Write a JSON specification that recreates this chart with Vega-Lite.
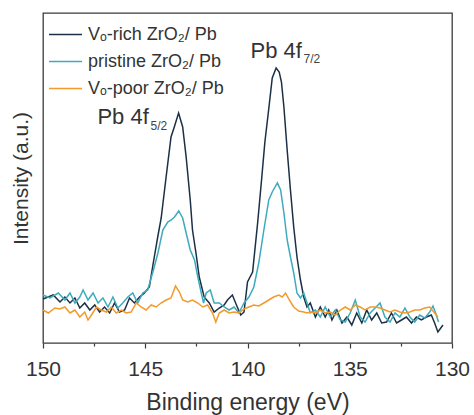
{
  "$schema": "https://vega.github.io/schema/vega-lite/v6.json",
  "width": 409,
  "height": 330,
  "autosize": {"type": "none"},
  "padding": {"left": 43, "top": 13, "right": 22, "bottom": 72},
  "config": {
    "font": "Liberation Sans",
    "view": {"stroke": "#3a3a3a", "strokeWidth": 1.3}
  },
  "datasets": {
    "spec": [
      {"s": "Vₒ-rich ZrO₂/ Pb", "e": 150.0, "v": 43},
      {"s": "Vₒ-rich ZrO₂/ Pb", "e": 149.75, "v": 45},
      {"s": "Vₒ-rich ZrO₂/ Pb", "e": 149.5, "v": 47},
      {"s": "Vₒ-rich ZrO₂/ Pb", "e": 149.17, "v": 40},
      {"s": "Vₒ-rich ZrO₂/ Pb", "e": 148.93, "v": 45},
      {"s": "Vₒ-rich ZrO₂/ Pb", "e": 148.68, "v": 39},
      {"s": "Vₒ-rich ZrO₂/ Pb", "e": 148.44, "v": 44},
      {"s": "Vₒ-rich ZrO₂/ Pb", "e": 148.2, "v": 34},
      {"s": "Vₒ-rich ZrO₂/ Pb", "e": 147.96, "v": 39},
      {"s": "Vₒ-rich ZrO₂/ Pb", "e": 147.71, "v": 32},
      {"s": "Vₒ-rich ZrO₂/ Pb", "e": 147.47, "v": 37},
      {"s": "Vₒ-rich ZrO₂/ Pb", "e": 147.23, "v": 30},
      {"s": "Vₒ-rich ZrO₂/ Pb", "e": 146.99, "v": 35},
      {"s": "Vₒ-rich ZrO₂/ Pb", "e": 146.74, "v": 29},
      {"s": "Vₒ-rich ZrO₂/ Pb", "e": 146.5, "v": 39},
      {"s": "Vₒ-rich ZrO₂/ Pb", "e": 146.26, "v": 30},
      {"s": "Vₒ-rich ZrO₂/ Pb", "e": 146.01, "v": 32},
      {"s": "Vₒ-rich ZrO₂/ Pb", "e": 145.77, "v": 44},
      {"s": "Vₒ-rich ZrO₂/ Pb", "e": 145.53, "v": 39},
      {"s": "Vₒ-rich ZrO₂/ Pb", "e": 145.28, "v": 45},
      {"s": "Vₒ-rich ZrO₂/ Pb", "e": 145.04, "v": 49},
      {"s": "Vₒ-rich ZrO₂/ Pb", "e": 144.8, "v": 55},
      {"s": "Vₒ-rich ZrO₂/ Pb", "e": 144.6, "v": 80},
      {"s": "Vₒ-rich ZrO₂/ Pb", "e": 144.39, "v": 105},
      {"s": "Vₒ-rich ZrO₂/ Pb", "e": 144.22, "v": 124},
      {"s": "Vₒ-rich ZrO₂/ Pb", "e": 143.98, "v": 165},
      {"s": "Vₒ-rich ZrO₂/ Pb", "e": 143.74, "v": 205},
      {"s": "Vₒ-rich ZrO₂/ Pb", "e": 143.58, "v": 215},
      {"s": "Vₒ-rich ZrO₂/ Pb", "e": 143.37, "v": 229},
      {"s": "Vₒ-rich ZrO₂/ Pb", "e": 143.17, "v": 215},
      {"s": "Vₒ-rich ZrO₂/ Pb", "e": 143.0, "v": 185},
      {"s": "Vₒ-rich ZrO₂/ Pb", "e": 142.8, "v": 142},
      {"s": "Vₒ-rich ZrO₂/ Pb", "e": 142.69, "v": 112},
      {"s": "Vₒ-rich ZrO₂/ Pb", "e": 142.52, "v": 89},
      {"s": "Vₒ-rich ZrO₂/ Pb", "e": 142.36, "v": 65},
      {"s": "Vₒ-rich ZrO₂/ Pb", "e": 142.12, "v": 45},
      {"s": "Vₒ-rich ZrO₂/ Pb", "e": 141.87, "v": 39},
      {"s": "Vₒ-rich ZrO₂/ Pb", "e": 141.63, "v": 30},
      {"s": "Vₒ-rich ZrO₂/ Pb", "e": 141.38, "v": 34},
      {"s": "Vₒ-rich ZrO₂/ Pb", "e": 141.14, "v": 37},
      {"s": "Vₒ-rich ZrO₂/ Pb", "e": 140.98, "v": 42},
      {"s": "Vₒ-rich ZrO₂/ Pb", "e": 140.74, "v": 47},
      {"s": "Vₒ-rich ZrO₂/ Pb", "e": 140.5, "v": 35},
      {"s": "Vₒ-rich ZrO₂/ Pb", "e": 140.33, "v": 27},
      {"s": "Vₒ-rich ZrO₂/ Pb", "e": 140.17, "v": 30},
      {"s": "Vₒ-rich ZrO₂/ Pb", "e": 140.0, "v": 60},
      {"s": "Vₒ-rich ZrO₂/ Pb", "e": 139.75, "v": 70},
      {"s": "Vₒ-rich ZrO₂/ Pb", "e": 139.5, "v": 120},
      {"s": "Vₒ-rich ZrO₂/ Pb", "e": 139.3, "v": 165},
      {"s": "Vₒ-rich ZrO₂/ Pb", "e": 139.15, "v": 200},
      {"s": "Vₒ-rich ZrO₂/ Pb", "e": 138.95, "v": 235},
      {"s": "Vₒ-rich ZrO₂/ Pb", "e": 138.79, "v": 264},
      {"s": "Vₒ-rich ZrO₂/ Pb", "e": 138.6, "v": 274},
      {"s": "Vₒ-rich ZrO₂/ Pb", "e": 138.45, "v": 270},
      {"s": "Vₒ-rich ZrO₂/ Pb", "e": 138.34, "v": 260},
      {"s": "Vₒ-rich ZrO₂/ Pb", "e": 138.22, "v": 235},
      {"s": "Vₒ-rich ZrO₂/ Pb", "e": 138.06, "v": 192},
      {"s": "Vₒ-rich ZrO₂/ Pb", "e": 137.9, "v": 152},
      {"s": "Vₒ-rich ZrO₂/ Pb", "e": 137.74, "v": 115},
      {"s": "Vₒ-rich ZrO₂/ Pb", "e": 137.58, "v": 85},
      {"s": "Vₒ-rich ZrO₂/ Pb", "e": 137.41, "v": 62},
      {"s": "Vₒ-rich ZrO₂/ Pb", "e": 137.25, "v": 45},
      {"s": "Vₒ-rich ZrO₂/ Pb", "e": 137.09, "v": 35},
      {"s": "Vₒ-rich ZrO₂/ Pb", "e": 136.93, "v": 39},
      {"s": "Vₒ-rich ZrO₂/ Pb", "e": 136.68, "v": 25},
      {"s": "Vₒ-rich ZrO₂/ Pb", "e": 136.44, "v": 35},
      {"s": "Vₒ-rich ZrO₂/ Pb", "e": 136.2, "v": 25},
      {"s": "Vₒ-rich ZrO₂/ Pb", "e": 136.03, "v": 32},
      {"s": "Vₒ-rich ZrO₂/ Pb", "e": 135.87, "v": 22},
      {"s": "Vₒ-rich ZrO₂/ Pb", "e": 135.63, "v": 32},
      {"s": "Vₒ-rich ZrO₂/ Pb", "e": 135.38, "v": 19},
      {"s": "Vₒ-rich ZrO₂/ Pb", "e": 135.14, "v": 25},
      {"s": "Vₒ-rich ZrO₂/ Pb", "e": 134.9, "v": 17},
      {"s": "Vₒ-rich ZrO₂/ Pb", "e": 134.66, "v": 29},
      {"s": "Vₒ-rich ZrO₂/ Pb", "e": 134.41, "v": 19},
      {"s": "Vₒ-rich ZrO₂/ Pb", "e": 134.17, "v": 32},
      {"s": "Vₒ-rich ZrO₂/ Pb", "e": 133.93, "v": 22},
      {"s": "Vₒ-rich ZrO₂/ Pb", "e": 133.68, "v": 29},
      {"s": "Vₒ-rich ZrO₂/ Pb", "e": 133.44, "v": 19},
      {"s": "Vₒ-rich ZrO₂/ Pb", "e": 133.2, "v": 20},
      {"s": "Vₒ-rich ZrO₂/ Pb", "e": 132.96, "v": 29},
      {"s": "Vₒ-rich ZrO₂/ Pb", "e": 132.71, "v": 19},
      {"s": "Vₒ-rich ZrO₂/ Pb", "e": 132.47, "v": 22},
      {"s": "Vₒ-rich ZrO₂/ Pb", "e": 132.23, "v": 25},
      {"s": "Vₒ-rich ZrO₂/ Pb", "e": 131.98, "v": 19},
      {"s": "Vₒ-rich ZrO₂/ Pb", "e": 131.74, "v": 25},
      {"s": "Vₒ-rich ZrO₂/ Pb", "e": 131.5, "v": 22},
      {"s": "Vₒ-rich ZrO₂/ Pb", "e": 131.25, "v": 25},
      {"s": "Vₒ-rich ZrO₂/ Pb", "e": 131.01, "v": 27},
      {"s": "Vₒ-rich ZrO₂/ Pb", "e": 130.85, "v": 19},
      {"s": "Vₒ-rich ZrO₂/ Pb", "e": 130.69, "v": 10},
      {"s": "Vₒ-rich ZrO₂/ Pb", "e": 130.44, "v": 17},

      {"s": "pristine ZrO₂/ Pb", "e": 150.0, "v": 47},
      {"s": "pristine ZrO₂/ Pb", "e": 149.66, "v": 44},
      {"s": "pristine ZrO₂/ Pb", "e": 149.25, "v": 49},
      {"s": "pristine ZrO₂/ Pb", "e": 148.93, "v": 42},
      {"s": "pristine ZrO₂/ Pb", "e": 148.68, "v": 49},
      {"s": "pristine ZrO₂/ Pb", "e": 148.44, "v": 39},
      {"s": "pristine ZrO₂/ Pb", "e": 148.2, "v": 45},
      {"s": "pristine ZrO₂/ Pb", "e": 148.04, "v": 52},
      {"s": "pristine ZrO₂/ Pb", "e": 147.8, "v": 42},
      {"s": "pristine ZrO₂/ Pb", "e": 147.55, "v": 49},
      {"s": "pristine ZrO₂/ Pb", "e": 147.31, "v": 39},
      {"s": "pristine ZrO₂/ Pb", "e": 147.07, "v": 44},
      {"s": "pristine ZrO₂/ Pb", "e": 146.82, "v": 35},
      {"s": "pristine ZrO₂/ Pb", "e": 146.58, "v": 45},
      {"s": "pristine ZrO₂/ Pb", "e": 146.34, "v": 34},
      {"s": "pristine ZrO₂/ Pb", "e": 146.1, "v": 39},
      {"s": "pristine ZrO₂/ Pb", "e": 145.85, "v": 45},
      {"s": "pristine ZrO₂/ Pb", "e": 145.61, "v": 49},
      {"s": "pristine ZrO₂/ Pb", "e": 145.37, "v": 39},
      {"s": "pristine ZrO₂/ Pb", "e": 145.12, "v": 49},
      {"s": "pristine ZrO₂/ Pb", "e": 144.88, "v": 52},
      {"s": "pristine ZrO₂/ Pb", "e": 144.6, "v": 72},
      {"s": "pristine ZrO₂/ Pb", "e": 144.38, "v": 89},
      {"s": "pristine ZrO₂/ Pb", "e": 144.14, "v": 112},
      {"s": "pristine ZrO₂/ Pb", "e": 143.9, "v": 120},
      {"s": "pristine ZrO₂/ Pb", "e": 143.73, "v": 122},
      {"s": "pristine ZrO₂/ Pb", "e": 143.57, "v": 125},
      {"s": "pristine ZrO₂/ Pb", "e": 143.36, "v": 131},
      {"s": "pristine ZrO₂/ Pb", "e": 143.17, "v": 124},
      {"s": "pristine ZrO₂/ Pb", "e": 143.0, "v": 109},
      {"s": "pristine ZrO₂/ Pb", "e": 142.8, "v": 92},
      {"s": "pristine ZrO₂/ Pb", "e": 142.59, "v": 82},
      {"s": "pristine ZrO₂/ Pb", "e": 142.43, "v": 65},
      {"s": "pristine ZrO₂/ Pb", "e": 142.26, "v": 49},
      {"s": "pristine ZrO₂/ Pb", "e": 142.15, "v": 39},
      {"s": "pristine ZrO₂/ Pb", "e": 142.02, "v": 49},
      {"s": "pristine ZrO₂/ Pb", "e": 141.82, "v": 52},
      {"s": "pristine ZrO₂/ Pb", "e": 141.63, "v": 39},
      {"s": "pristine ZrO₂/ Pb", "e": 141.38, "v": 39},
      {"s": "pristine ZrO₂/ Pb", "e": 141.14, "v": 35},
      {"s": "pristine ZrO₂/ Pb", "e": 140.9, "v": 32},
      {"s": "pristine ZrO₂/ Pb", "e": 140.66, "v": 35},
      {"s": "pristine ZrO₂/ Pb", "e": 140.42, "v": 29},
      {"s": "pristine ZrO₂/ Pb", "e": 140.17, "v": 39},
      {"s": "pristine ZrO₂/ Pb", "e": 139.93, "v": 45},
      {"s": "pristine ZrO₂/ Pb", "e": 139.69, "v": 55},
      {"s": "pristine ZrO₂/ Pb", "e": 139.45, "v": 79},
      {"s": "pristine ZrO₂/ Pb", "e": 139.2, "v": 112},
      {"s": "pristine ZrO₂/ Pb", "e": 138.96, "v": 142},
      {"s": "pristine ZrO₂/ Pb", "e": 138.79, "v": 150},
      {"s": "pristine ZrO₂/ Pb", "e": 138.54, "v": 159},
      {"s": "pristine ZrO₂/ Pb", "e": 138.38, "v": 152},
      {"s": "pristine ZrO₂/ Pb", "e": 138.22, "v": 129},
      {"s": "pristine ZrO₂/ Pb", "e": 138.06, "v": 102},
      {"s": "pristine ZrO₂/ Pb", "e": 137.9, "v": 85},
      {"s": "pristine ZrO₂/ Pb", "e": 137.74, "v": 69},
      {"s": "pristine ZrO₂/ Pb", "e": 137.58, "v": 49},
      {"s": "pristine ZrO₂/ Pb", "e": 137.41, "v": 44},
      {"s": "pristine ZrO₂/ Pb", "e": 137.25, "v": 49},
      {"s": "pristine ZrO₂/ Pb", "e": 137.09, "v": 39},
      {"s": "pristine ZrO₂/ Pb", "e": 136.93, "v": 29},
      {"s": "pristine ZrO₂/ Pb", "e": 136.68, "v": 32},
      {"s": "pristine ZrO₂/ Pb", "e": 136.44, "v": 25},
      {"s": "pristine ZrO₂/ Pb", "e": 136.2, "v": 35},
      {"s": "pristine ZrO₂/ Pb", "e": 135.95, "v": 25},
      {"s": "pristine ZrO₂/ Pb", "e": 135.71, "v": 32},
      {"s": "pristine ZrO₂/ Pb", "e": 135.46, "v": 22},
      {"s": "pristine ZrO₂/ Pb", "e": 135.22, "v": 20},
      {"s": "pristine ZrO₂/ Pb", "e": 134.98, "v": 29},
      {"s": "pristine ZrO₂/ Pb", "e": 134.73, "v": 42},
      {"s": "pristine ZrO₂/ Pb", "e": 134.49, "v": 25},
      {"s": "pristine ZrO₂/ Pb", "e": 134.25, "v": 20},
      {"s": "pristine ZrO₂/ Pb", "e": 134.0, "v": 29},
      {"s": "pristine ZrO₂/ Pb", "e": 133.76, "v": 34},
      {"s": "pristine ZrO₂/ Pb", "e": 133.52, "v": 39},
      {"s": "pristine ZrO₂/ Pb", "e": 133.28, "v": 25},
      {"s": "pristine ZrO₂/ Pb", "e": 133.03, "v": 20},
      {"s": "pristine ZrO₂/ Pb", "e": 132.79, "v": 29},
      {"s": "pristine ZrO₂/ Pb", "e": 132.55, "v": 25},
      {"s": "pristine ZrO₂/ Pb", "e": 132.3, "v": 34},
      {"s": "pristine ZrO₂/ Pb", "e": 132.06, "v": 25},
      {"s": "pristine ZrO₂/ Pb", "e": 131.82, "v": 20},
      {"s": "pristine ZrO₂/ Pb", "e": 131.58, "v": 27},
      {"s": "pristine ZrO₂/ Pb", "e": 131.33, "v": 24},
      {"s": "pristine ZrO₂/ Pb", "e": 131.09, "v": 30},
      {"s": "pristine ZrO₂/ Pb", "e": 130.93, "v": 36},
      {"s": "pristine ZrO₂/ Pb", "e": 130.8, "v": 29},
      {"s": "pristine ZrO₂/ Pb", "e": 130.66, "v": 20},

      {"s": "Vₒ-poor ZrO₂/ Pb", "e": 150.0, "v": 32},
      {"s": "Vₒ-poor ZrO₂/ Pb", "e": 149.74, "v": 29},
      {"s": "Vₒ-poor ZrO₂/ Pb", "e": 149.42, "v": 34},
      {"s": "Vₒ-poor ZrO₂/ Pb", "e": 149.17, "v": 33},
      {"s": "Vₒ-poor ZrO₂/ Pb", "e": 148.93, "v": 35},
      {"s": "Vₒ-poor ZrO₂/ Pb", "e": 148.68, "v": 29},
      {"s": "Vₒ-poor ZrO₂/ Pb", "e": 148.44, "v": 32},
      {"s": "Vₒ-poor ZrO₂/ Pb", "e": 148.2, "v": 25},
      {"s": "Vₒ-poor ZrO₂/ Pb", "e": 147.96, "v": 30},
      {"s": "Vₒ-poor ZrO₂/ Pb", "e": 147.8, "v": 22},
      {"s": "Vₒ-poor ZrO₂/ Pb", "e": 147.63, "v": 27},
      {"s": "Vₒ-poor ZrO₂/ Pb", "e": 147.39, "v": 35},
      {"s": "Vₒ-poor ZrO₂/ Pb", "e": 147.15, "v": 32},
      {"s": "Vₒ-poor ZrO₂/ Pb", "e": 146.9, "v": 30},
      {"s": "Vₒ-poor ZrO₂/ Pb", "e": 146.66, "v": 35},
      {"s": "Vₒ-poor ZrO₂/ Pb", "e": 146.42, "v": 29},
      {"s": "Vₒ-poor ZrO₂/ Pb", "e": 146.17, "v": 32},
      {"s": "Vₒ-poor ZrO₂/ Pb", "e": 145.93, "v": 29},
      {"s": "Vₒ-poor ZrO₂/ Pb", "e": 145.69, "v": 30},
      {"s": "Vₒ-poor ZrO₂/ Pb", "e": 145.44, "v": 39},
      {"s": "Vₒ-poor ZrO₂/ Pb", "e": 145.2, "v": 35},
      {"s": "Vₒ-poor ZrO₂/ Pb", "e": 144.96, "v": 32},
      {"s": "Vₒ-poor ZrO₂/ Pb", "e": 144.71, "v": 37},
      {"s": "Vₒ-poor ZrO₂/ Pb", "e": 144.47, "v": 35},
      {"s": "Vₒ-poor ZrO₂/ Pb", "e": 144.23, "v": 39},
      {"s": "Vₒ-poor ZrO₂/ Pb", "e": 143.98, "v": 42},
      {"s": "Vₒ-poor ZrO₂/ Pb", "e": 143.74, "v": 44},
      {"s": "Vₒ-poor ZrO₂/ Pb", "e": 143.52, "v": 56},
      {"s": "Vₒ-poor ZrO₂/ Pb", "e": 143.33, "v": 50},
      {"s": "Vₒ-poor ZrO₂/ Pb", "e": 143.17, "v": 42},
      {"s": "Vₒ-poor ZrO₂/ Pb", "e": 142.93, "v": 40},
      {"s": "Vₒ-poor ZrO₂/ Pb", "e": 142.69, "v": 42},
      {"s": "Vₒ-poor ZrO₂/ Pb", "e": 142.43, "v": 39},
      {"s": "Vₒ-poor ZrO₂/ Pb", "e": 142.19, "v": 35},
      {"s": "Vₒ-poor ZrO₂/ Pb", "e": 141.95, "v": 37},
      {"s": "Vₒ-poor ZrO₂/ Pb", "e": 141.71, "v": 29},
      {"s": "Vₒ-poor ZrO₂/ Pb", "e": 141.55, "v": 20},
      {"s": "Vₒ-poor ZrO₂/ Pb", "e": 141.38, "v": 29},
      {"s": "Vₒ-poor ZrO₂/ Pb", "e": 141.14, "v": 32},
      {"s": "Vₒ-poor ZrO₂/ Pb", "e": 140.9, "v": 29},
      {"s": "Vₒ-poor ZrO₂/ Pb", "e": 140.66, "v": 30},
      {"s": "Vₒ-poor ZrO₂/ Pb", "e": 140.42, "v": 29},
      {"s": "Vₒ-poor ZrO₂/ Pb", "e": 140.17, "v": 33},
      {"s": "Vₒ-poor ZrO₂/ Pb", "e": 139.93, "v": 35},
      {"s": "Vₒ-poor ZrO₂/ Pb", "e": 139.69, "v": 37},
      {"s": "Vₒ-poor ZrO₂/ Pb", "e": 139.45, "v": 36},
      {"s": "Vₒ-poor ZrO₂/ Pb", "e": 139.2, "v": 39},
      {"s": "Vₒ-poor ZrO₂/ Pb", "e": 138.96, "v": 42},
      {"s": "Vₒ-poor ZrO₂/ Pb", "e": 138.72, "v": 45},
      {"s": "Vₒ-poor ZrO₂/ Pb", "e": 138.47, "v": 47},
      {"s": "Vₒ-poor ZrO₂/ Pb", "e": 138.3, "v": 45},
      {"s": "Vₒ-poor ZrO₂/ Pb", "e": 138.14, "v": 49},
      {"s": "Vₒ-poor ZrO₂/ Pb", "e": 137.95, "v": 42},
      {"s": "Vₒ-poor ZrO₂/ Pb", "e": 137.74, "v": 35},
      {"s": "Vₒ-poor ZrO₂/ Pb", "e": 137.5, "v": 31},
      {"s": "Vₒ-poor ZrO₂/ Pb", "e": 137.25, "v": 30},
      {"s": "Vₒ-poor ZrO₂/ Pb", "e": 137.09, "v": 29},
      {"s": "Vₒ-poor ZrO₂/ Pb", "e": 136.93, "v": 30},
      {"s": "Vₒ-poor ZrO₂/ Pb", "e": 136.68, "v": 29},
      {"s": "Vₒ-poor ZrO₂/ Pb", "e": 136.44, "v": 32},
      {"s": "Vₒ-poor ZrO₂/ Pb", "e": 136.2, "v": 29},
      {"s": "Vₒ-poor ZrO₂/ Pb", "e": 135.95, "v": 30},
      {"s": "Vₒ-poor ZrO₂/ Pb", "e": 135.71, "v": 27},
      {"s": "Vₒ-poor ZrO₂/ Pb", "e": 135.46, "v": 32},
      {"s": "Vₒ-poor ZrO₂/ Pb", "e": 135.22, "v": 35},
      {"s": "Vₒ-poor ZrO₂/ Pb", "e": 134.98, "v": 32},
      {"s": "Vₒ-poor ZrO₂/ Pb", "e": 134.73, "v": 37},
      {"s": "Vₒ-poor ZrO₂/ Pb", "e": 134.49, "v": 35},
      {"s": "Vₒ-poor ZrO₂/ Pb", "e": 134.25, "v": 32},
      {"s": "Vₒ-poor ZrO₂/ Pb", "e": 134.0, "v": 35},
      {"s": "Vₒ-poor ZrO₂/ Pb", "e": 133.76, "v": 35},
      {"s": "Vₒ-poor ZrO₂/ Pb", "e": 133.52, "v": 34},
      {"s": "Vₒ-poor ZrO₂/ Pb", "e": 133.28, "v": 32},
      {"s": "Vₒ-poor ZrO₂/ Pb", "e": 133.03, "v": 30},
      {"s": "Vₒ-poor ZrO₂/ Pb", "e": 132.79, "v": 32},
      {"s": "Vₒ-poor ZrO₂/ Pb", "e": 132.55, "v": 30},
      {"s": "Vₒ-poor ZrO₂/ Pb", "e": 132.3, "v": 29},
      {"s": "Vₒ-poor ZrO₂/ Pb", "e": 132.06, "v": 30},
      {"s": "Vₒ-poor ZrO₂/ Pb", "e": 131.82, "v": 32},
      {"s": "Vₒ-poor ZrO₂/ Pb", "e": 131.58, "v": 32},
      {"s": "Vₒ-poor ZrO₂/ Pb", "e": 131.33, "v": 34},
      {"s": "Vₒ-poor ZrO₂/ Pb", "e": 131.09, "v": 35},
      {"s": "Vₒ-poor ZrO₂/ Pb", "e": 130.85, "v": 29},
      {"s": "Vₒ-poor ZrO₂/ Pb", "e": 130.69, "v": 25}
    ],
    "ann": [
      {"e": 147.34, "v": 218, "t": "Pb 4f"},
      {"e": 139.85, "v": 284, "t": "Pb 4f"}
    ],
    "sub": [
      {"e": 144.74, "v": 212, "t": "5/2"},
      {"e": 137.26, "v": 279, "t": "7/2"}
    ]
  },
  "layer": [
    {
      "data": {"name": "spec"},
      "mark": {"type": "line", "strokeWidth": 1.5, "interpolate": "linear"},
      "encoding": {
        "x": {
          "field": "e",
          "type": "quantitative",
          "scale": {"domain": [130, 150], "reverse": true, "nice": false, "zero": false},
          "axis": {
            "values": [150, 147.5, 145, 142.5, 140, 137.5, 135, 132.5, 130],
            "labelExpr": "datum.value % 5 == 0 ? datum.label : ''",
            "tickSize": {"condition": {"test": "datum.value % 5 == 0", "value": 5}, "value": 3},
            "tickColor": "#3a3a3a",
            "tickWidth": 1.2,
            "domain": false,
            "grid": false,
            "labelFontSize": 21,
            "labelColor": "#333333",
            "labelPadding": 10,
            "labelFlush": false,
            "labelOverlap": false,
            "title": "Binding energy (eV)",
            "titleFontSize": 23,
            "titleFontWeight": "normal",
            "titleColor": "#333333",
            "titlePadding": 12
          }
        },
        "y": {
          "field": "v",
          "type": "quantitative",
          "scale": {"domain": [-1, 329], "nice": false, "zero": false},
          "axis": {
            "ticks": false,
            "labels": false,
            "domain": false,
            "grid": false,
            "title": "Intensity (a.u.)",
            "titleFontSize": 21,
            "titleFontWeight": "normal",
            "titleColor": "#333333",
            "titlePadding": 12
          }
        },
        "color": {
          "field": "s",
          "type": "nominal",
          "sort": ["Vₒ-rich ZrO₂/ Pb", "pristine ZrO₂/ Pb", "Vₒ-poor ZrO₂/ Pb"],
          "scale": {
            "domain": ["Vₒ-rich ZrO₂/ Pb", "pristine ZrO₂/ Pb", "Vₒ-poor ZrO₂/ Pb"],
            "range": ["#1b3045", "#3eaabd", "#f39a2c"]
          },
          "legend": {
            "orient": "none",
            "legendX": 5,
            "legendY": 4,
            "title": null,
            "symbolType": "stroke",
            "symbolSize": 1089,
            "symbolStrokeWidth": 1.5,
            "labelFontSize": 18,
            "labelColor": "#333333",
            "labelOffset": 5,
            "rowPadding": -2
          }
        }
      }
    },
    {
      "data": {"name": "ann"},
      "mark": {"type": "text", "align": "left", "baseline": "alphabetic", "fontSize": 22, "color": "#333333"},
      "encoding": {
        "x": {"field": "e", "type": "quantitative"},
        "y": {"field": "v", "type": "quantitative"},
        "text": {"field": "t"}
      }
    },
    {
      "data": {"name": "sub"},
      "mark": {"type": "text", "align": "left", "baseline": "alphabetic", "fontSize": 12, "color": "#444444"},
      "encoding": {
        "x": {"field": "e", "type": "quantitative"},
        "y": {"field": "v", "type": "quantitative"},
        "text": {"field": "t"}
      }
    }
  ]
}
